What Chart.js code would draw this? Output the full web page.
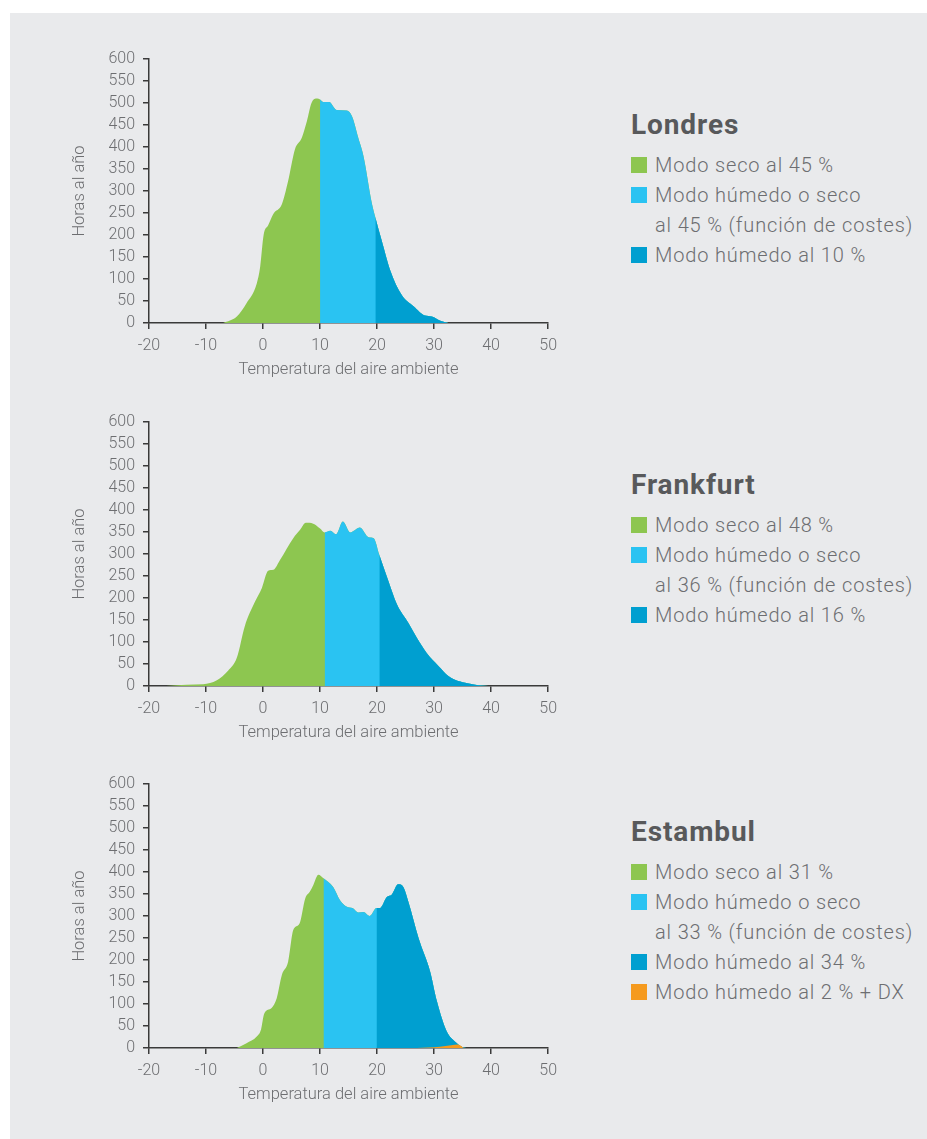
<!DOCTYPE html>
<html lang="es">
<head>
<meta charset="utf-8">
<title>Horas al año por temperatura</title>
<script src="https://cdn.jsdelivr.net/npm/chart.js@4.4.1/dist/chart.umd.min.js"></script>
<style>
    body { margin: 0; background: #ffffff; font-family: Roboto, "Noto Sans", sans-serif; }
    .panel { position: absolute; left: 10px; top: 13px; width: 917px; height: 1126px; background: #e9eaec; }
    .grafico { position: absolute; left: 60px; width: 504px; height: 343px; }
    .leyenda { position: absolute; left: 631px; color: #6d6e71; }
    .leyenda h2 { margin: 0; font-size: 28px; font-weight: 700; color: #58595b; line-height: 30px; height: 40px; letter-spacing: 0.9px; }
    .leyenda .item { position: relative; padding-left: 24px; font-size: 20px; font-weight: 300; line-height: 30px; white-space: nowrap; letter-spacing: 0.85px; }
    .leyenda .item i { position: absolute; left: 0; top: 7px; width: 16px; height: 16px; }
</style>
</head>
<body>
<div class="panel"></div>

<div class="grafico" style="top:40px"><canvas id="grafLondres"></canvas></div>
<div class="grafico" style="top:403px"><canvas id="grafFrankfurt"></canvas></div>
<div class="grafico" style="top:765px"><canvas id="grafEstambul"></canvas></div>

<div class="leyenda" style="top:110px">
    <h2>Londres</h2>
    <div class="item"><i style="background:#8dc650"></i>Modo seco al 45 %</div>
    <div class="item"><i style="background:#2ac3f2"></i>Modo húmedo o seco</div>
    <div class="item">al 45 % (función de costes)</div>
    <div class="item"><i style="background:#009fd0"></i>Modo húmedo al 10 %</div>
</div>
<div class="leyenda" style="top:470px">
    <h2>Frankfurt</h2>
    <div class="item"><i style="background:#8dc650"></i>Modo seco al 48 %</div>
    <div class="item"><i style="background:#2ac3f2"></i>Modo húmedo o seco</div>
    <div class="item">al 36 % (función de costes)</div>
    <div class="item"><i style="background:#009fd0"></i>Modo húmedo al 16 %</div>
</div>
<div class="leyenda" style="top:817px">
    <h2>Estambul</h2>
    <div class="item"><i style="background:#8dc650"></i>Modo seco al 31 %</div>
    <div class="item"><i style="background:#2ac3f2"></i>Modo húmedo o seco</div>
    <div class="item">al 33 % (función de costes)</div>
    <div class="item"><i style="background:#009fd0"></i>Modo húmedo al 34 %</div>
    <div class="item"><i style="background:#f59a1e"></i>Modo húmedo al 2 % + DX</div>
</div>

<script>
// Datos (temperatura °C -> horas al año)
const londresTemp  = [-7, -4.6, -2.9, -1.1, -0.5, 0.1, 0.9, 1.8, 3.3, 4.4, 5.6, 6.8, 7.7, 8.5, 9.5, 10, 10.6, 11.6, 12.9, 14.7, 15.6, 16.7, 17.6, 19.1, 19.7, 20.8, 22.3, 24.3, 26.4, 28.4, 29.6, 31.1, 32.5];
const londresHoras = [0, 15, 45, 90, 128, 200, 222, 248, 270, 323, 395, 421, 459, 500, 510, 508, 502, 502, 484, 483, 470, 421, 380, 271, 240, 188, 120, 64, 38, 17, 15, 5, 0];
const londresCortes = [10, 19.7];

const frankfurtTemp  = [-17, -13.4, -10.5, -8.1, -6.1, -4.6, -3.2, -1.4, -0.2, 0.9, 1.8, 3.0, 5.3, 6.5, 7.5, 8.8, 10.0, 10.8, 11.8, 12.8, 14.0, 15.3, 17.0, 18.5, 19.4, 20.4, 22.0, 23.5, 25.5, 27.0, 28.7, 30.8, 32.5, 34.6, 36.3, 38.1, 39.5];
const frankfurtHoras = [0, 3, 4, 13, 35, 64, 136, 192, 223, 262, 264, 287, 336, 355, 371, 369, 358, 349, 353, 345, 374, 349, 360, 338, 336, 298, 238, 185, 143, 109, 75, 45, 23, 10, 5, 1, 0];
const frankfurtCortes = [10.8, 20.4];

const estambulTemp  = [-4.6, -2.9, -1.1, -0.35, 0.2, 1.5, 2.4, 3.3, 4.4, 5.3, 6.4, 7.4, 8.2, 8.8, 9.7, 10.6, 12.3, 13.5, 14.7, 15.7, 16.7, 17.6, 18.7, 19.9, 20.5, 21.7, 22.6, 23.7, 24.6, 25.5, 27.3, 29.3, 30.5, 32.2, 33.7, 35.1, 35.6];
const estambulHoras = [0, 11, 26, 42, 78, 91, 113, 166, 196, 268, 283, 340, 355, 370, 394, 386, 366, 336, 321, 318, 308, 309, 300, 318, 318, 343, 349, 372, 366, 332, 249, 174, 106, 38, 14, 1, 0];
const estambulCortes = [10.6, 19.9];
const estambulDxTemp  = [27, 29, 31, 33, 34.2, 35.2];
const estambulDxHoras = [0, 1, 3, 6, 8, 0];

const ticksX = [-20, -10, 0, 10, 20, 30, 40, 50];
const ticksY = [0, 50, 100, 150, 200, 250, 300, 350, 400, 450, 500, 550, 600];

const colores = ['#8dc650', '#2ac3f2', '#009fd0'];
const colorDx = '#f59a1e';
const grisTexto = '#6d6e71';
const colorEje = '#3a3a3a';

// Devuelve los puntos entre dos temperaturas (incluidas)
function tramo(temps, horas, desde, hasta) {
    const puntos = [];
    temps.forEach((t, i) => {
        if (t >= desde && t <= hasta) puntos.push({ x: t, y: horas[i] });
    });
    return puntos;
}

function serie(puntos, color, orden) {
    return {
        data: puntos,
        backgroundColor: color,
        borderWidth: 0,
        pointRadius: 0,
        fill: 'origin',
        order: orden,
        cubicInterpolationMode: 'monotone'
    };
}

function crearGrafico(id, temps, horas, cortes, extra) {
    // cada tramo se rellena desde su corte hasta el final; el siguiente se pinta encima
    const inicios = [-Infinity, cortes[0], cortes[1]];
    const datasets = inicios.map((desde, i) =>
        serie(tramo(temps, horas, desde, Infinity), colores[i], 3 - i));
    if (extra) datasets.push(extra);

    const fuente = { family: 'Roboto', size: 16, weight: 300 };
    const fuenteTitulo = { family: 'Roboto', size: 16.5, weight: 300 };

    new Chart(document.getElementById(id), {
        type: 'line',
        data: { datasets },
        options: {
            responsive: true,
            maintainAspectRatio: false,
            animation: false,
            layout: { padding: { top: 19, right: 8, left: 7, bottom: 0 } },
            plugins: { legend: { display: false }, tooltip: { enabled: false } },
            scales: {
                x: {
                    type: 'linear',
                    min: ticksX[0],
                    max: ticksX[ticksX.length - 1],
                    afterBuildTicks: s => { s.ticks = ticksX.map(v => ({ value: v })); },
                    afterFit: s => { s.height = 60; },
                    grid: { drawOnChartArea: false, drawTicks: true, tickLength: 6, color: colorEje, lineWidth: 1.5 },
                    border: { color: colorEje, width: 1.5 },
                    ticks: { color: grisTexto, font: fuente, padding: 7, maxRotation: 0, autoSkip: false },
                    title: { display: true, text: 'Temperatura del aire ambiente', color: grisTexto, font: fuenteTitulo, padding: 3 }
                },
                y: {
                    min: ticksY[0],
                    max: ticksY[ticksY.length - 1],
                    afterBuildTicks: s => { s.ticks = ticksY.map(v => ({ value: v })); },
                    afterFit: s => { s.width = 82; },
                    grid: { drawOnChartArea: false, drawTicks: true, tickLength: 6, color: colorEje, lineWidth: 1.5 },
                    border: { color: colorEje, width: 1.5 },
                    ticks: { color: grisTexto, font: fuente, padding: 8, autoSkip: false },
                    title: { display: true, text: 'Horas al año', color: grisTexto, font: fuenteTitulo, padding: 3 }
                }
            }
        }
    });
}

crearGrafico('grafLondres', londresTemp, londresHoras, londresCortes);
crearGrafico('grafFrankfurt', frankfurtTemp, frankfurtHoras, frankfurtCortes);
crearGrafico('grafEstambul', estambulTemp, estambulHoras, estambulCortes,
    serie(tramo(estambulDxTemp, estambulDxHoras, -Infinity, Infinity), colorDx, 0));
</script>
</body>
</html>
